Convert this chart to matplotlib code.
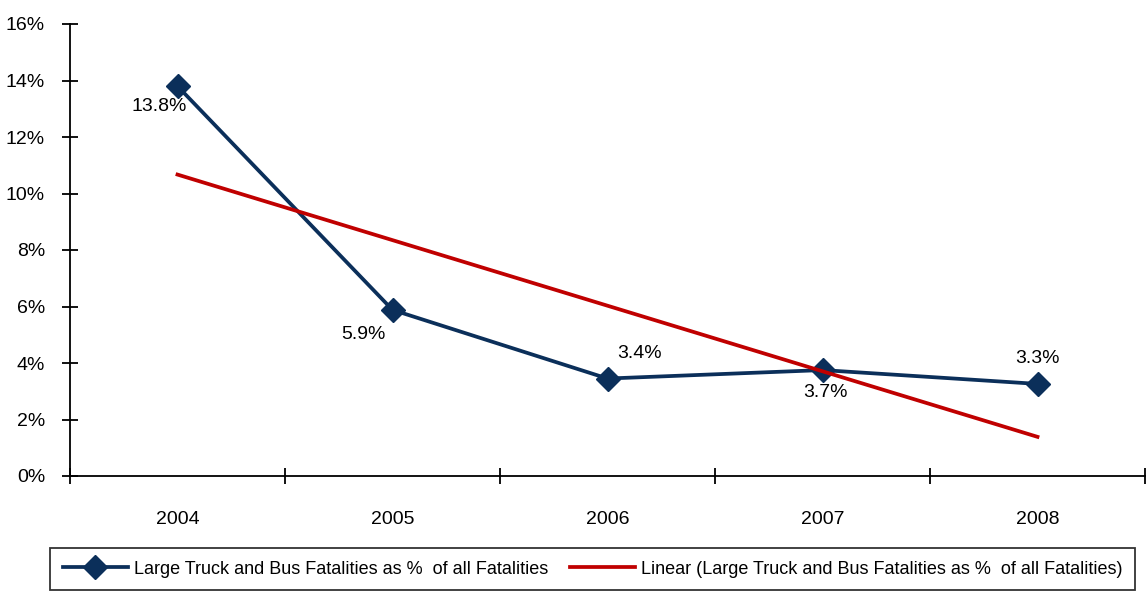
import numpy as np
import matplotlib.pyplot as plt

years = ['2004', '2005', '2006', '2007', '2008']
fatality_pct = [13.8, 5.88, 3.45, 3.75, 3.26]
point_labels = ['13.8%', '5.9%', '3.4%', '3.7%', '3.3%']

plt.rcParams['font.family'] = ['Liberation Sans', 'DejaVu Sans']

navy = '#0b2f5a'
red = '#c00000'

fig = plt.figure(figsize=(11.47, 5.93), dpi=100)
ax = fig.add_axes([70 / 1147, 117 / 593, 1075 / 1147, 452 / 593])

x = np.arange(len(years))
ax.plot(x, fatality_pct, color=navy, lw=2.7, marker='D', markersize=12,
        label='Large Truck and Bus Fatalities as %  of all Fatalities')

# linear trend line
slope, intercept = np.polyfit(x, fatality_pct, 1)
ax.plot(x, slope * x + intercept, color=red, lw=2.7,
        label='Linear (Large Truck and Bus Fatalities as %  of all Fatalities)')

# data labels (offsets in points)
offsets = [(-13, -15), (-21, -18), (23, 18), (2, -16), (0, 18)]
for xi, yi, lab, off in zip(x, fatality_pct, point_labels, offsets):
    ax.annotate(lab, (xi, yi), xytext=off, textcoords='offset points',
                ha='center', va='center', fontsize=14)

ax.set_xlim(-0.5, 4.5)
ax.set_ylim(0, 16)
ax.set_yticks(np.arange(0, 17, 2))
ax.set_yticklabels([f'{v}%' for v in range(0, 17, 2)], fontsize=14)
ax.set_xticks(x)
ax.set_xticklabels(years, fontsize=14)
ax.set_xticks(np.arange(-0.5, 5, 1), minor=True)
ax.tick_params(axis='x', which='major', length=0, pad=25)
ax.tick_params(axis='x', which='minor', length=12, width=1.3, direction='inout')
ax.tick_params(axis='y', which='major', length=12, width=1.3, direction='inout', pad=12)
for s in ['top', 'right']:
    ax.spines[s].set_visible(False)
for s in ['left', 'bottom']:
    ax.spines[s].set_linewidth(1.3)

leg = fig.legend(loc='upper left', bbox_to_anchor=(50 / 1147, 1 - 548 / 593), ncol=2,
                 fontsize=13, frameon=True, fancybox=False, edgecolor='black',
                 handlelength=3.6, handletextpad=0.35, columnspacing=1.2,
                 borderpad=0.7, borderaxespad=0)
leg.get_frame().set_linewidth(1.3)

fig.savefig('out.png', dpi=100)
